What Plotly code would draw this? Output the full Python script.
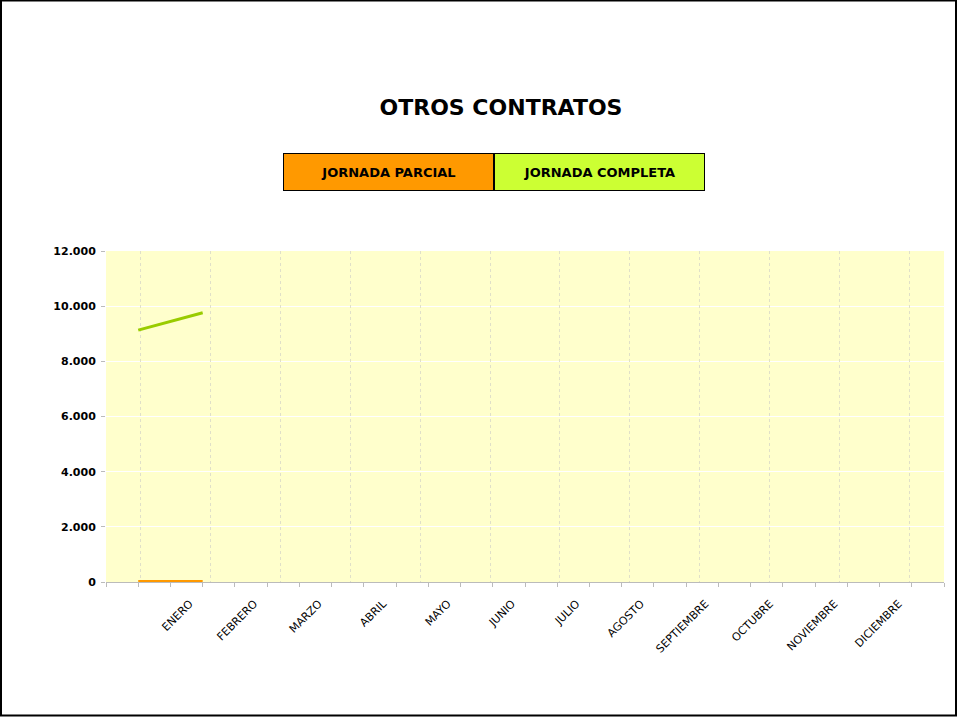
import plotly.graph_objects as go

meses = ['ENERO', 'FEBRERO', 'MARZO', 'ABRIL', 'MAYO', 'JUNIO', 'JULIO',
         'AGOSTO', 'SEPTIEMBRE', 'OCTUBRE', 'NOVIEMBRE', 'DICIEMBRE']
# posiciones sobre el eje de categorias (26 marcas)
pos_datos = [1, 3]
jornada_parcial = [15, 15]
jornada_completa = [9130, 9760]
y_ticks = [0, 2000, 4000, 6000, 8000, 10000, 12000]

n_cat = 26
pos_etiquetas = [2.6 + 2 * i for i in range(len(meses))]

fig = go.Figure()
fig.add_trace(go.Scatter(
    x=pos_datos, y=jornada_parcial, mode='lines', name='JORNADA PARCIAL',
    line=dict(color='#FF9900', width=3)
))
fig.add_trace(go.Scatter(
    x=pos_datos, y=jornada_completa, mode='lines', name='JORNADA COMPLETA',
    line=dict(color='#99CC00', width=3)
))
# eje auxiliar solo para la rejilla vertical de meses
fig.add_trace(go.Scatter(x=[None], y=[None], xaxis='x2', showlegend=False))

fnt = dict(family='DejaVu Sans', color='#000000')

fig.update_layout(
    width=957, height=718,
    margin=dict(l=106, r=13, t=251, b=136),
    paper_bgcolor='white',
    plot_bgcolor='#FFFFCC',
    separators=',.',
    showlegend=False,
    title=dict(text='<b>OTROS CONTRATOS</b>', x=0.5235, xanchor='center',
               y=0.851, yanchor='middle', font=dict(size=22, **fnt)),
    xaxis=dict(
        range=[0, n_cat], tickmode='array', tickvals=pos_etiquetas, ticktext=meses,
        tickangle=-45, ticks='', showgrid=False, zeroline=False,
        showline=True, linecolor='#BBBBBB', linewidth=1,
        ticklabelstandoff=10,
        tickfont=dict(size=11, **fnt),
        minor=dict(ticks='outside', dtick=1, tick0=0, ticklen=4,
                   tickcolor='#BBBBBB', showgrid=False),
    ),
    xaxis2=dict(
        range=[0, 12], overlaying='x', tickvals=[i + 0.5 for i in range(12)],
        showticklabels=False, showgrid=True, gridcolor='#E0E0C8',
        griddash='dot', gridwidth=1, zeroline=False, showline=False,
    ),
    yaxis=dict(
        range=[0, 12000], tickvals=y_ticks, tickformat=',d',
        showgrid=True, gridcolor='white', gridwidth=1, zeroline=False,
        showline=False, ticks='outside', ticklen=4, tickcolor='#BBBBBB',
        ticklabelstandoff=3,
        tickfont=dict(size=11, weight='bold', **fnt),
    ),
)

# leyenda en forma de cajas
leyenda = [('JORNADA PARCIAL', '#FF9900'), ('JORNADA COMPLETA', '#CCFF33')]
ancho = 211 / 838
for i, (txt, col) in enumerate(leyenda):
    fig.add_annotation(
        xref='paper', yref='paper', x=(283 - 106) / 838 + ancho * (i + 0.5),
        y=(582 - 172) / 331, xanchor='center', yanchor='middle',
        text='<b>' + txt + '</b>', showarrow=False, width=203, height=30,
        bgcolor=col, bordercolor='#000000', borderwidth=1, borderpad=3,
        font=dict(size=13, **fnt),
    )

# marco exterior
fig.add_shape(type='rect', xref='paper', yref='paper',
              x0=-105 / 838, x1=(956 - 106) / 838,
              y0=(582 - 715.5) / 331, y1=(582 - 0.5) / 331,
              line=dict(color='#000000', width=2), fillcolor='rgba(0,0,0,0)',
              layer='below')

# sin margen en la pagina para que el grafico ocupe toda la ventana
fig.write_html('out.html', config={'displayModeBar': False},
               post_script="document.body.style.margin='0';")
